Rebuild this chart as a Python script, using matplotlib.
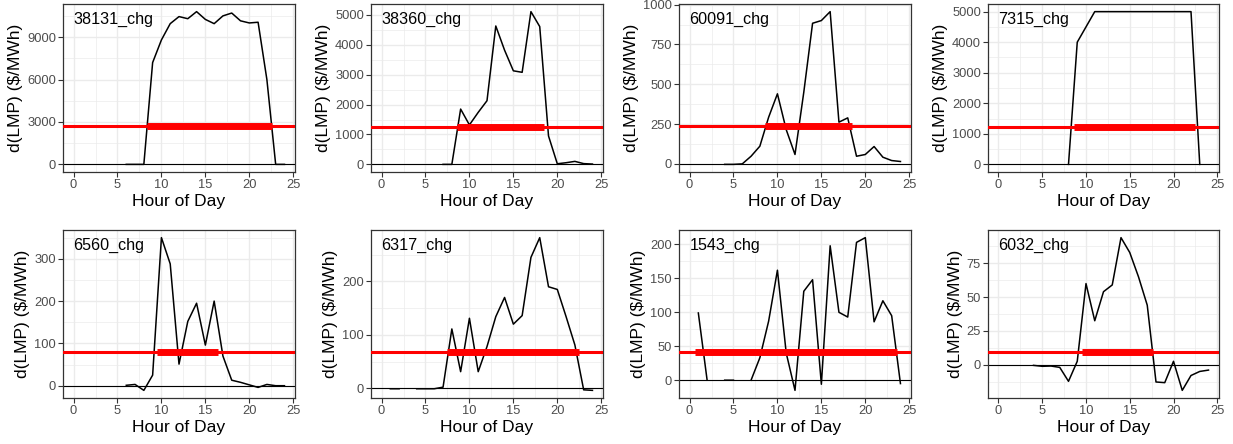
import numpy as np
import matplotlib
matplotlib.use('Agg')
import matplotlib.pyplot as plt
from matplotlib.ticker import MultipleLocator

plt.rcParams['font.family'] = ['Liberation Sans', 'DejaVu Sans']

nan = np.nan
hours = np.arange(25)

names = ['38131_chg', '38360_chg', '60091_chg', '7315_chg',
         '6560_chg', '6317_chg', '1543_chg', '6032_chg']

lmp_38131 = [nan, nan, nan, nan, nan, nan, 0, 0, 0, 7200, 8800, 9950, 10450,
             10300, 10800, 10250, 9950, 10500, 10700, 10150, 10000, 10050,
             6000, 0, 0]
lmp_38360 = [nan, nan, nan, nan, nan, nan, nan, 0, 0, 1850, 1320, 1740, 2130,
             4630, 3820, 3130, 3080, 5110, 4610, 950, 20, 55, 100, 25, 10]
lmp_60091 = [nan, nan, nan, nan, -3, -3, 0, 48, 111, 293, 440, 215, 59, 450,
             883, 900, 956, 262, 289, 48, 59, 109, 42, 21, 15]
lmp_7315 = [nan, nan, nan, nan, nan, nan, nan, nan, 0, 4000, 4500, 5000, 5000,
            5000, 5000, 5000, 5000, 5000, 5000, 5000, 5000, 5000, 5000, 0, nan]
lmp_6560 = [nan, nan, nan, nan, nan, nan, 1, 3, -11, 25, 350, 288, 51, 152,
            195, 96, 200, 70, 13, 8, 2, -4, 3, 0, 0]
lmp_6317 = [nan, -1, -1, nan, -1, -1, -1, 2, 111, 31, 131, 31, 78, 134, 170,
            120, 136, 245, 282, 190, 185, 134, 81, -3, -4]
lmp_1543 = [nan, 99, 0, nan, 0, 0, nan, 0, 33, 87, 162, 40, -15, 131, 148, -6,
            198, 100, 93, 203, 210, 86, 117, 95, -5]
lmp_6032 = [nan, nan, nan, nan, -0.5, -1.2, -1, -2, -12.3, 2.5, 60, 32.5, 54,
            59, 94, 83, 65, 44, -12.8, -13.3, 2.5, -19, -8, -5, -4]
series = [lmp_38131, lmp_38360, lmp_60091, lmp_7315,
          lmp_6560, lmp_6317, lmp_1543, lmp_6032]

# red reference level and the hours it is highlighted over
red_level = [2690, 1265, 238, 1235, 80, 68, 42, 9.6]
red_start = [8.4, 8.55, 8.6, 8.6, 9.5, 7.5, 0.6, 9.5]
red_end = [22.6, 18.5, 18.45, 22.45, 16.45, 22.45, 23.6, 17.7]

y_step = [3000, 1000, 250, 1000, 100, 100, 50, 25]

W, H = 1233, 444
fig = plt.figure(figsize=(W / 100, H / 100), dpi=100)

lefts = [63, 371, 679, 988]
widths = [232, 232, 232, 231]
tops = [4, 230]
ph = 168

for i in range(8):
    r, c = divmod(i, 4)
    ax = fig.add_axes([lefts[c] / W, 1 - (tops[r] + ph) / H, widths[c] / W, ph / H])
    y = np.array(series[i], dtype=float)

    ax.set_facecolor('white')
    ax.grid(True, which='major', color='#EBEBEB', linewidth=1.0)
    ax.grid(True, which='minor', color='#EBEBEB', linewidth=0.5)
    ax.set_axisbelow(True)

    ax.axhline(0, color='black', linewidth=0.8, zorder=2)
    ax.plot(hours, y, color='black', linewidth=1.1, zorder=3)
    ax.axhline(red_level[i], color='#FF0000', linewidth=2.2, zorder=4)
    ax.plot([red_start[i], red_end[i]], [red_level[i], red_level[i]],
            color='#FF0000', linewidth=5, solid_capstyle='butt', zorder=5)

    lo = min(np.nanmin(y), 0, red_level[i])
    hi = max(np.nanmax(y), 0, red_level[i])
    pad = (hi - lo) * 0.05
    ax.set_ylim(lo - pad, hi + pad)
    ax.set_xlim(-1.2, 25.2)

    ax.xaxis.set_major_locator(MultipleLocator(5))
    ax.xaxis.set_minor_locator(MultipleLocator(2.5))
    ax.yaxis.set_major_locator(MultipleLocator(y_step[i]))
    ax.yaxis.set_minor_locator(MultipleLocator(y_step[i] / 2))

    ax.tick_params(which='major', length=3.5, width=0.8, color='#333333',
                   labelsize=9.3, labelcolor='#4D4D4D', pad=1.5)
    ax.tick_params(which='minor', length=0)
    for s in ax.spines.values():
        s.set_color('#333333')
        s.set_linewidth(0.9)

    ax.set_xlabel('Hour of Day', fontsize=12.5, labelpad=2)
    ax.set_ylabel('d(LMP) ($/MWh)', fontsize=12.5, labelpad=3)
    ax.text(0.045, 0.91, names[i], transform=ax.transAxes, fontsize=11.6,
            ha='left', va='center', color='black')

fig.savefig('out.png', dpi=100, facecolor='white')
